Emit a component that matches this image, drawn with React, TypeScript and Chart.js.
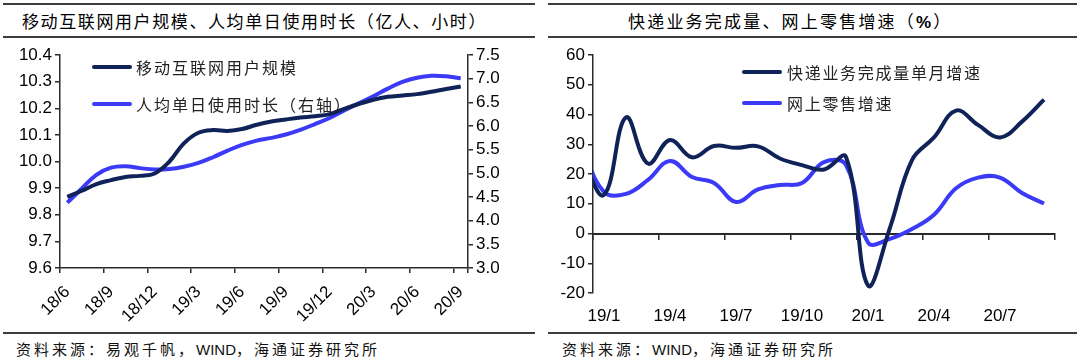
import React, { useEffect, useRef } from 'react';
import { Chart, registerables } from 'chart.js';

Chart.register(...registerables);

// ---------- Left chart data ----------
const leftLabels = [
  '18/6', '18/7', '18/8', '18/9', '18/10', '18/11', '18/12',
  '19/1', '19/2', '19/3', '19/4', '19/5', '19/6', '19/7', '19/8', '19/9', '19/10', '19/11', '19/12',
  '20/1', '20/2', '20/3', '20/4', '20/5', '20/6', '20/7', '20/8', '20/9',
];
// 移动互联网用户规模（亿人）
const mobileUsers = [
  9.867, 9.89, 9.915, 9.93, 9.942, 9.946, 9.955,
  9.999, 10.068, 10.108, 10.118, 10.115, 10.122, 10.138, 10.15, 10.158, 10.165, 10.17, 10.178,
  10.198, 10.216, 10.232, 10.243, 10.248, 10.253, 10.262, 10.272, 10.282,
];
// 人均单日使用时长（小时，右轴）
const dailyHours = [
  4.38, 4.68, 4.97, 5.12, 5.15, 5.11, 5.08,
  5.09, 5.14, 5.22, 5.34, 5.48, 5.6, 5.69, 5.75, 5.82, 5.92, 6.04, 6.17,
  6.33, 6.48, 6.63, 6.79, 6.93, 7.02, 7.06, 7.05, 7.01,
];

// ---------- Right chart data ----------
const rightLabels = [
  '18/12',
  '19/1', '19/2', '19/3', '19/4', '19/5', '19/6', '19/7', '19/8', '19/9', '19/10', '19/11', '19/12',
  '20/1', '20/2', '20/3', '20/4', '20/5', '20/6', '20/7', '20/8', '20/9',
];
// 快递业务完成量单月增速（%）
const expressGrowth = [
  25,
  13, 39, 23.5, 31.4, 25.6, 29.4, 28.8, 29.3, 25.2, 23, 21.5, 25.7,
  -17.5, 2, 24.7, 32.3, 41.3, 36.5, 32.3, 37.6, 45,
];
// 网上零售增速（%）
const onlineRetailGrowth = [
  29,
  14, 13.3, 18, 24.4, 19, 17, 10.6, 14.8, 16.3, 17, 24, 23,
  -3, -1.8, 1.5, 6.3, 15.2, 18.8, 18.8, 13.6, 10.1,
];

const DARK = '#0f2358';
const BLUE = '#3a3af7';
const AXIS = '#2a2a2a';
const TICK_FONT = { family: '"Liberation Sans", Arial, sans-serif', size: 17 };
const CJK = '"Noto Sans CJK SC", "Noto Sans", sans-serif';

function everyThird(ctx: any) {
  if (ctx.type !== 'tick' || ctx.index % 3 === 0) return AXIS;
  return 'rgba(0,0,0,0)';
}

function LeftChart() {
  const ref = useRef<HTMLCanvasElement>(null);
  useEffect(() => {
    const chart = new Chart(ref.current as HTMLCanvasElement, {
      type: 'line',
      data: {
        labels: leftLabels,
        datasets: [
          {
            label: '移动互联网用户规模',
            data: mobileUsers,
            borderColor: DARK,
            backgroundColor: DARK,
            borderWidth: 4,
            pointRadius: 0,
            tension: 0.4,
            yAxisID: 'y',
            xAxisID: 'x',
          },
          {
            label: '人均单日使用时长（右轴）',
            data: dailyHours,
            borderColor: BLUE,
            backgroundColor: BLUE,
            borderWidth: 4,
            pointRadius: 0,
            tension: 0.4,
            yAxisID: 'y1',
            xAxisID: 'x',
          },
        ],
      },
      options: {
        responsive: false,
        maintainAspectRatio: false,
        animation: false,
        layout: { padding: { left: 14, top: 15, right: 32, bottom: 2 } },
        plugins: { legend: { display: false }, tooltip: { enabled: false } },
        scales: {
          x: {
            type: 'category',
            offset: true,
            grid: {
              offset: true,
              drawOnChartArea: false,
              tickLength: 5,
              lineWidth: 1.5,
              tickWidth: 1.5,
              tickColor: everyThird,
            },
            border: { color: AXIS, width: 1.5 },
            ticks: {
              autoSkip: false,
              maxRotation: 45,
              minRotation: 45,
              padding: 9,
              color: '#000',
              font: TICK_FONT,
              callback: (_v: any, i: number) => (i % 3 === 0 ? leftLabels[i] : ''),
            },
            afterFit: (s: any) => { s.height = 60; },
          },
          y: {
            position: 'left',
            min: 9.6,
            max: 10.4,
            grid: { drawOnChartArea: false, tickLength: 5, color: AXIS, lineWidth: 1.5 },
            border: { color: AXIS, width: 1.5 },
            ticks: {
              stepSize: 0.1,
              padding: 3,
              color: '#000',
              font: TICK_FONT,
              callback: (v: any) => Number(v).toFixed(1),
            },
            afterFit: (s: any) => { s.width = 46; },
          },
          y1: {
            position: 'right',
            min: 3,
            max: 7.5,
            grid: { drawOnChartArea: false, tickLength: 5, color: AXIS, lineWidth: 1.5 },
            border: { color: AXIS, width: 1.5 },
            ticks: {
              stepSize: 0.5,
              padding: 3,
              color: '#000',
              font: TICK_FONT,
              callback: (v: any) => Number(v).toFixed(1),
            },
            afterFit: (s: any) => { s.width = 40; },
          },
        },
      } as any,
    });
    return () => chart.destroy();
  }, []);
  return (
    <canvas
      ref={ref}
      width={540}
      height={290}
      style={{ position: 'absolute', left: 0, top: 40, width: 540, height: 290 }}
    />
  );
}

function RightChart() {
  const ref = useRef<HTMLCanvasElement>(null);
  useEffect(() => {
    const chart = new Chart(ref.current as HTMLCanvasElement, {
      type: 'line',
      data: {
        labels: rightLabels,
        datasets: [
          {
            label: '快递业务完成量单月增速',
            data: expressGrowth,
            borderColor: DARK,
            backgroundColor: DARK,
            borderWidth: 4,
            pointRadius: 0,
            tension: 0.4,
            xAxisID: 'x',
            yAxisID: 'y',
          },
          {
            label: '网上零售增速',
            data: onlineRetailGrowth,
            borderColor: BLUE,
            backgroundColor: BLUE,
            borderWidth: 4,
            pointRadius: 0,
            tension: 0.4,
            xAxisID: 'x',
            yAxisID: 'y',
          },
        ],
      },
      options: {
        responsive: false,
        maintainAspectRatio: false,
        animation: false,
        layout: { padding: { left: 7, top: 15, right: 25, bottom: 7 } },
        plugins: { legend: { display: false }, tooltip: { enabled: false } },
        scales: {
          x: {
            type: 'category',
            min: '19/1',
            offset: true,
            position: { y: 0 },
            grid: {
              offset: true,
              drawOnChartArea: false,
              tickLength: 5,
              lineWidth: 1.5,
              tickWidth: 1.5,
              tickColor: everyThird,
            },
            border: { color: AXIS, width: 2 },
            ticks: { display: false, autoSkip: false },
          },
          x2: {
            type: 'category',
            min: '19/1',
            offset: true,
            position: 'bottom',
            grid: { display: false, drawTicks: false },
            border: { display: false },
            ticks: {
              autoSkip: false,
              maxRotation: 0,
              minRotation: 0,
              padding: 13,
              color: '#000',
              font: TICK_FONT,
              callback: function (this: any, v: any, i: number) {
                return i % 3 === 0 ? this.getLabelForValue(v) : '';
              },
            },
            afterFit: (s: any) => { s.height = 30; },
          },
          y: {
            position: 'left',
            min: -20,
            max: 60,
            grid: { drawOnChartArea: false, tickLength: 5, color: AXIS, lineWidth: 1.5 },
            border: { color: AXIS, width: 1.5 },
            ticks: {
              stepSize: 10,
              padding: 3,
              color: '#000',
              font: TICK_FONT,
            },
            afterFit: (s: any) => { s.width = 46; },
          },
        },
      } as any,
    });
    return () => chart.destroy();
  }, []);
  return (
    <canvas
      ref={ref}
      width={540}
      height={290}
      style={{ position: 'absolute', left: 540, top: 40, width: 540, height: 290 }}
    />
  );
}

const rule = (left: number, top: number, width: number): React.CSSProperties => ({
  position: 'absolute', left, top, width, height: 2, background: '#3c3c3c',
});

const textStyle = (left: number, top: number, size: number, spacing: number, color = '#111'): React.CSSProperties => ({
  position: 'absolute', left, top, fontFamily: CJK, fontSize: size, lineHeight: '20px',
  letterSpacing: spacing, color, whiteSpace: 'nowrap',
});

const legendLine = (left: number, top: number, color: string): React.CSSProperties => ({
  position: 'absolute', left, top, width: 40, height: 4, borderRadius: 2, background: color,
});

export default function App() {
  return (
    <div style={{ position: 'absolute', left: 0, top: 0, width: 1080, height: 358, background: '#fff', overflow: 'hidden' }}>
      {/* Left panel */}
      <div style={rule(3, 3, 532)} />
      <div style={textStyle(22, 11, 17, 1.6, '#000')}>移动互联网用户规模、人均单日使用时长（亿人、小时）</div>
      <div style={rule(3, 36, 532)} />
      <LeftChart />
      <div style={legendLine(92, 65, DARK)} />
      <div style={textStyle(136, 57, 16, 2, '#222')}>移动互联网用户规模</div>
      <div style={legendLine(92, 102, BLUE)} />
      <div style={textStyle(136, 94, 16, 2, '#222')}>人均单日使用时长（右轴）</div>
      <div style={rule(3, 332, 532)} />
      <div style={textStyle(16, 339, 15, 3, '#111')}>
        资料来源：易观千帆，<span style={{ fontFamily: '"Liberation Sans", Arial, sans-serif', letterSpacing: 0 }}>WIND</span>，海通证券研究所
      </div>

      {/* Right panel */}
      <div style={rule(548, 3, 529)} />
      <div style={textStyle(628, 11, 17, 2.2, '#000')}>
        快递业务完成量、网上零售增速（<span style={{ fontFamily: '"Liberation Sans", Arial, sans-serif', fontWeight: 700 }}>%</span>）
      </div>
      <div style={rule(548, 36, 529)} />
      <RightChart />
      <div style={legendLine(742, 70, DARK)} />
      <div style={textStyle(787, 62, 16, 1.7, '#222')}>快递业务完成量单月增速</div>
      <div style={legendLine(742, 101, BLUE)} />
      <div style={textStyle(787, 93, 16, 1.7, '#222')}>网上零售增速</div>
      <div style={rule(548, 332, 529)} />
      <div style={textStyle(562, 339, 15, 3, '#111')}>
        资料来源：<span style={{ fontFamily: '"Liberation Sans", Arial, sans-serif', letterSpacing: 0 }}>WIND</span>，海通证券研究所
      </div>
    </div>
  );
}
